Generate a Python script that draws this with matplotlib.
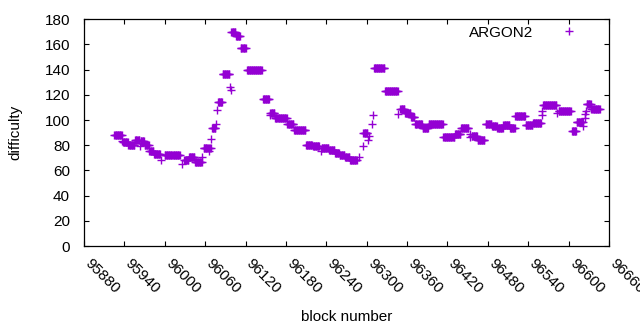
import numpy as np
import matplotlib
matplotlib.use('Agg')
import matplotlib.pyplot as plt
from matplotlib.transforms import ScaledTranslation

######################################################################
# Data: runs of blocks sharing the same difficulty
#   (first block, last block, difficulty)
######################################################################
seg_start = [95925, 95937, 95938, 95946, 95956, 95963, 95964, 95970, 95977, 95984,
             95995, 96000, 96025, 96029, 96036, 96045, 96056, 96058, 96066, 96067,
             96069, 96070, 96076, 96077, 96079, 96086, 96097, 96098, 96099, 96106,
             96113, 96122, 96146, 96156, 96157, 96164, 96182, 96192, 96210, 96220,
             96232, 96233, 96244, 96253, 96260, 96268, 96275, 96289, 96294, 96295,
             96302, 96303, 96308, 96310, 96311, 96327, 96347, 96350, 96357, 96366,
             96372, 96383, 96392, 96414, 96431, 96440, 96453, 96454, 96456, 96465,
             96477, 96486, 96494, 96503, 96513, 96521, 96536, 96547, 96560, 96561,
             96562, 96583, 96585, 96605, 96612, 96622, 96624, 96625, 96626, 96627,
             96634]
seg_end = [95936, 95937, 95945, 95955, 95962, 95963, 95969, 95976, 95983, 95993,
           95995, 96022, 96025, 96035, 96044, 96055, 96056, 96065, 96066, 96068,
           96069, 96075, 96076, 96077, 96085, 96096, 96097, 96098, 96105, 96112,
           96120, 96144, 96155, 96156, 96163, 96181, 96191, 96209, 96219, 96229,
           96232, 96243, 96252, 96259, 96267, 96274, 96285, 96289, 96294, 96301,
           96302, 96303, 96308, 96310, 96326, 96346, 96347, 96356, 96365, 96371,
           96382, 96391, 96413, 96430, 96439, 96451, 96453, 96454, 96464, 96475,
           96485, 96493, 96502, 96512, 96520, 96535, 96546, 96559, 96560, 96561,
           96582, 96583, 96603, 96611, 96621, 96622, 96624, 96625, 96626, 96633,
           96646]
seg_value = [88, 83, 82.5, 80.5, 84, 79.5, 83.5, 80, 75.5, 73,
             68, 72, 65, 68.5, 70.5, 66.5, 71, 78, 75.5, 78,
             85, 93.5, 97, 108, 114, 136.5, 126, 123.5, 170, 167,
             157, 140, 116.5, 104, 106, 102, 96.5, 92.5, 80.5, 79.8,
             75.5, 78, 76.5, 73.5, 72, 70.5, 68, 71, 79.5, 89.5,
             84, 87, 97, 104, 141, 123, 104.5, 109, 106, 102.5,
             96.5, 94, 96.5, 86.5, 89, 94, 89, 86.8, 87, 84,
             97, 95.5, 93.5, 96, 93.5, 103, 96, 98, 107.5, 104,
             112, 105.5, 107.5, 91.5, 98.5, 95, 102, 104.5, 107.5, 113,
             108.5]

series_name = 'ARGON2'
x_ticks = list(range(95880, 96661, 60))
y_ticks = list(range(0, 181, 20))

blocks = np.concatenate([np.arange(s, e + 1) for s, e in zip(seg_start, seg_end)])
difficulty = np.concatenate([np.full(e - s + 1, v) for s, e, v in zip(seg_start, seg_end, seg_value)])

######################################################################
# Plot
######################################################################
plt.rcParams['font.family'] = ['Liberation Sans', 'DejaVu Sans']
plt.rcParams['font.size'] = 11

fig = plt.figure(figsize=(6.4, 3.3), dpi=100)
ax = fig.add_axes([0.13125, 0.2545, 0.8203, 0.687])

color = '#9400d3'
ax.plot(blocks, difficulty, linestyle='none', marker='+', markersize=5.5,
        markeredgewidth=1.0, color=color, label=series_name)

ax.set_xlim(95880, 96660)
ax.set_ylim(0, 180)
ax.set_xticks(x_ticks)
ax.set_yticks(y_ticks)

ax.tick_params(direction='in', length=3.5, width=0.8, top=True, right=True, colors='black')
ax.tick_params(axis='y', pad=10)
ax.tick_params(axis='x', pad=11)
for spine in ax.spines.values():
    spine.set_linewidth(0.9)

# gnuplot style rotated x labels, hanging down to the right of each tick
for label in ax.get_xticklabels():
    label.set_rotation(-45)
    label.set_ha('left')
    label.set_va('center')
    label.set_rotation_mode('anchor')
    label.set_transform(label.get_transform() + ScaledTranslation(0.03, 0, fig.dpi_scale_trans))

ax.set_xlabel('block number')
ax.set_ylabel('difficulty')
ax.xaxis.set_label_coords(0.5, -0.283)
ax.yaxis.set_label_coords(-0.118, 0.5)

ax.legend(loc='upper right', bbox_to_anchor=(0.952, 0.972), markerfirst=False, frameon=False,
          handlelength=2, handletextpad=1.3, borderpad=0, borderaxespad=0, fontsize=11)

fig.savefig('out.png', dpi=100)
